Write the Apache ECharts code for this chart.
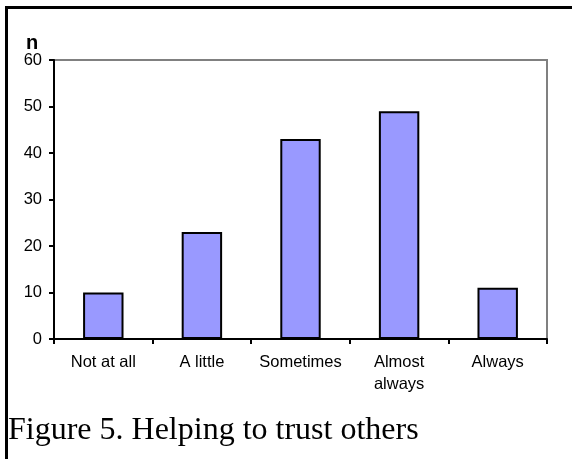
<!DOCTYPE html>
<html><head><meta charset="utf-8">
<script src="https://cdn.jsdelivr.net/npm/echarts@6/dist/echarts.min.js"></script>
<style>html,body{margin:0;padding:0;background:#fff}#c{width:572px;height:459px}</style>
</head><body><div id="c"></div>
<script>
const categories = ['Not at all', 'A little', 'Sometimes', 'Almost\nalways', 'Always'];
const values = [10, 23, 43, 49, 11];
const yTicks = [0, 10, 20, 30, 40, 50, 60];

const chart = echarts.init(document.getElementById('c'), null, {renderer: 'canvas'});
chart.setOption({
  animation: false,
  backgroundColor: '#fff',
  grid: {left: 54, right: 25, top: 60, bottom: 120, show: true, borderColor: '#808080', borderWidth: 2, backgroundColor: 'transparent'},
  xAxis: {
    type: 'category', data: categories,
    axisLine: {lineStyle: {color: '#000', width: 2}},
    axisTick: {show: true, length: 5, lineStyle: {color: '#000', width: 2}, alignWithLabel: false},
    axisLabel: {color: '#000', fontFamily: 'Liberation Sans, Arial', fontSize: 16.5, margin: 12, lineHeight: 22, interval: 0}
  },
  yAxis: {
    type: 'value', min: yTicks[0], max: yTicks[yTicks.length - 1], interval: 10,
    splitLine: {show: false},
    axisLine: {show: true, lineStyle: {color: '#000', width: 2}},
    axisTick: {show: true, length: 5, lineStyle: {color: '#000', width: 2}},
    axisLabel: {color: '#000', fontFamily: 'Liberation Sans, Arial', fontSize: 16.5, margin: 12}
  },
  series: [{
    type: 'bar', data: values, barWidth: '41%',
    itemStyle: {color: '#9999ff', borderColor: '#000', borderWidth: 2}
  }],
  graphic: [
    {type: 'rect', shape: {x: 5, y: 6, width: 3, height: 460}, style: {fill: '#000'}},
    {type: 'rect', shape: {x: 5, y: 6, width: 580, height: 3}, style: {fill: '#000'}},
    {type: 'text', left: 26, top: 33, style: {text: 'n', font: 'bold 20px "Liberation Sans", Arial', fill: '#000'}},
    {type: 'text', left: 8, top: 415, style: {text: 'Figure 5. Helping to trust others', font: '32px "Liberation Serif", "Times New Roman"', fill: '#000'}}
  ]
});
</script></body></html>
